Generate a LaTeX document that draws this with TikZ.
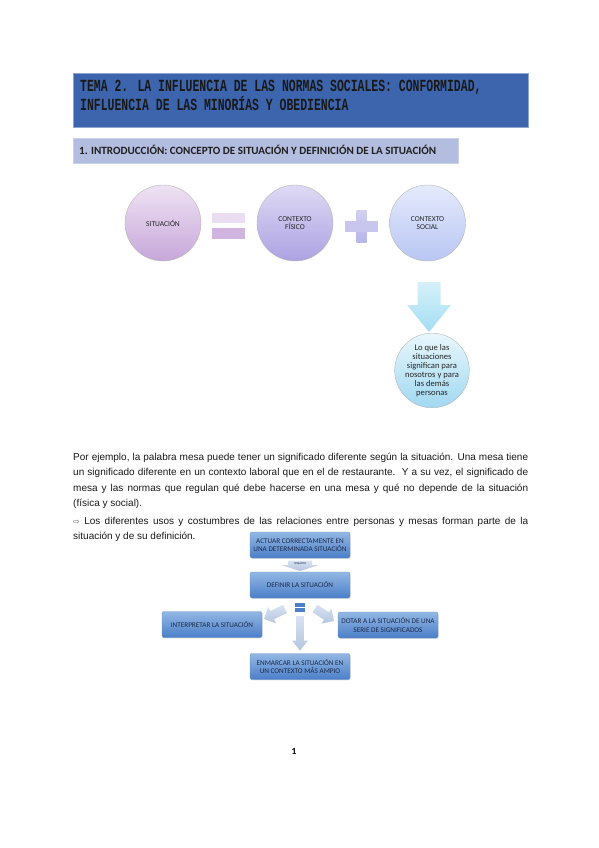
\documentclass[tikz,border=0pt]{standalone}
\usepackage{fontspec}
\setmainfont{Liberation Sans}
\newfontfamily\calib{Carlito}
\newfontfamily\monof{Liberation Mono}
\newfontfamily\djv{DejaVu Sans}
\usetikzlibrary{calc,shadows}
\definecolor{titleblue}{HTML}{3D65AD}
\definecolor{titleframe}{HTML}{8FA5D2}
\definecolor{secfill}{HTML}{B3BDE0}
\definecolor{secframe}{HTML}{C9D0EA}
\definecolor{boxtop}{HTML}{93B7E4}
\definecolor{boxbot}{HTML}{4B7FC8}
\definecolor{boxframe}{HTML}{6E95CE}
\definecolor{boxtext}{HTML}{1C2A48}
\definecolor{arrtop}{HTML}{D9E2F0}
\definecolor{arrbot}{HTML}{B5C6E0}
\newcommand{\blockarr}[6]{% start, end, shaft half width, head half width, head length, style
  \path[#6] ($(#1)!#3!90:(#2)$) -- ($($(#2)!#5!(#1)$)!#3!90:(#2)$)
    -- ($($(#2)!#5!(#1)$)!#4!90:(#2)$) -- (#2)
    -- ($($(#2)!#5!(#1)$)!#4!-90:(#2)$) -- ($($(#2)!#5!(#1)$)!#3!-90:(#2)$)
    -- ($(#1)!#3!-90:(#2)$) -- cycle;}
\tikzset{
  circ/.style={circle, minimum size=76pt, inner sep=0pt, draw=black!28, line width=0.4pt,
    font=\calib\fontsize{7.5}{8.6}\selectfont, align=center, text=black!85},
  bar/.style={rectangle, inner sep=0pt, draw=none},
  fbox/.style={rectangle, rounded corners=2pt, top color=boxtop, bottom color=boxbot,
    draw=boxframe, line width=0.3pt, minimum width=100pt, minimum height=26pt, inner sep=1pt,
    font=\calib\fontsize{7.2}{8.4}\selectfont, align=center, text=boxtext,
    drop shadow={opacity=0.25, shadow xshift=0.6pt, shadow yshift=-0.8pt}},
  bodyline/.style={anchor=base west, inner sep=0pt, font=\fontsize{10}{12}\selectfont, text=black!90},
}
\begin{document}
\begin{tikzpicture}[x=1pt,y=-1pt]
\useasboundingbox[fill=white] (0,0) rectangle (599,848);

% title
\node[anchor=north west, minimum width=455pt, minimum height=54pt, inner sep=0pt,
  fill=titleblue, draw=titleframe, line width=0.8pt] (title) at (73,73) {};
\node[anchor=base west, inner sep=0pt, font=\monof\bfseries\fontsize{11.7}{14}\selectfont, text=black!90] (t1) at (80,91.5)
  {\scalebox{0.98}[1.45]{TEMA 2. LA INFLUENCIA DE LAS NORMAS SOCIALES: CONFORMIDAD,}};
\node[anchor=base west, inner sep=0pt, font=\monof\bfseries\fontsize{11.7}{14}\selectfont, text=black!90] (t2) at (80,111)
  {\scalebox{0.98}[1.45]{INFLUENCIA DE LAS MINORÍAS Y OBEDIENCIA}};

% section
\node[anchor=north west, minimum width=385pt, minimum height=25pt, inner sep=0pt,
  fill=secfill, draw=secframe, line width=0.6pt] (sec) at (73,138) {};
\node[anchor=base west, inner sep=0pt, font=\calib\bfseries\fontsize{11.1}{13}\selectfont, text=black!88] (sect) at (79,154)
  {1. INTRODUCCIÓN: CONCEPTO DE SITUACIÓN Y DEFINICIÓN DE LA SITUACIÓN};

% circles
\node[circ, top color={rgb,255:red,238;green,226;blue,243}, bottom color={rgb,255:red,199;green,167;blue,218}] (sit) at (163,223) {SITUACIÓN};
\node[bar, minimum width=33pt, minimum height=10pt, fill={rgb,255:red,234;green,221;blue,242}] (eqa) at (228.5,218) {};
\node[bar, minimum width=33pt, minimum height=11pt, fill={rgb,255:red,208;green,181;blue,225}] (eqb) at (228.5,233.5) {};
\node[circ, top color={rgb,255:red,222;green,218;blue,244}, bottom color={rgb,255:red,172;green,162;blue,226}] (fis) at (295,223) {CONTEXTO\\FÍSICO};
\node[bar, minimum width=10pt, minimum height=32pt, top color={rgb,255:red,210;green,208;blue,242}, bottom color={rgb,255:red,182;green,182;blue,234}] (plv) at (361.5,226) {};
\node[bar, minimum width=33pt, minimum height=11pt, fill={rgb,255:red,200;green,198;blue,238}] (plh) at (361.5,226) {};
\node[circ, top color={rgb,255:red,229;green,234;blue,252}, bottom color={rgb,255:red,184;green,198;blue,243}] (soc) at (427.5,223) {CONTEXTO\\SOCIAL};

\coordinate (da1) at (429,282);
\coordinate (da2) at (429,332);
\blockarr{da1}{da2}{11.5pt}{22pt}{27pt}{top color={rgb,255:red,214;green,241;blue,250}, bottom color={rgb,255:red,163;green,221;blue,243}}
\node[circ, minimum size=74pt, top color={rgb,255:red,232;green,247;blue,253}, bottom color={rgb,255:red,160;green,216;blue,241}, font=\calib\fontsize{8.6}{8.9}\selectfont] (res) at (432,370.5)
  {Lo que las\\situaciones\\significan para\\nosotros y para\\las demás\\personas};

% body text
\node[bodyline] (l1) at (73,460) {\makebox[455pt][s]{Por ejemplo, la palabra mesa puede tener un significado diferente según la situación. Una mesa tiene}};
\node[bodyline] (l2) at (73,475.5) {\makebox[455pt][s]{un significado diferente en un contexto laboral que en el de restaurante.\ \ Y a su vez, el significado de}};
\node[bodyline] (l3) at (73,491) {\makebox[455pt][s]{mesa y las normas que regulan qué debe hacerse en una mesa y qué no depende de la situación}};
\node[bodyline] (l4) at (73,506.5) {(física y social).};
\node[bodyline] (l5) at (73,524) {\makebox[455pt][s]{{\djv\fontsize{8}{10}\selectfont\color{black!60}⇨} Los diferentes usos y costumbres de las relaciones entre personas y mesas forman parte de la}};
\node[bodyline] (l6) at (73,539.5) {situación y de su definición.};

% bottom diagram
\node[fbox] (act) at (300,545) {ACTUAR CORRECTAMENTE EN\\UNA DETERMINADA SITUACIÓN};
\node[fbox] (def) at (300,585) {DEFINIR LA SITUACIÓN};
\node[fbox] (int) at (212,624.5) {INTERPRETAR LA SITUACIÓN};
\node[fbox] (dot) at (388,625) {DOTAR A LA SITUACIÓN DE UNA\\SERIE DE SIGNIFICADOS};
\node[fbox] (enm) at (300,666.5) {ENMARCAR LA SITUACIÓN EN\\UN CONTEXTO MÁS AMPIO};

\coordinate (ra1) at (300,560.5);
\coordinate (ra2) at (300,571);
\blockarr{ra1}{ra2}{12pt}{19pt}{6pt}{top color=arrtop, bottom color=arrbot}
\node[inner sep=0pt, font=\calib\fontsize{3.6}{4}\selectfont, text=boxtext] (req) at (300,563.3) {requiere};

\node[bar, minimum width=10pt, minimum height=3.2pt, fill=boxbot] (eqs1) at (300,605) {};
\node[bar, minimum width=10pt, minimum height=3.2pt, fill=boxbot] (eqs2) at (300,610) {};

\coordinate (la1) at (285,609);
\coordinate (la2) at (264,619);
\blockarr{la1}{la2}{4.5pt}{9pt}{9pt}{top color=arrtop, bottom color=arrbot}
\coordinate (rra1) at (315,608.5);
\coordinate (rra2) at (334,621);
\blockarr{rra1}{rra2}{4.5pt}{9pt}{9pt}{top color=arrtop, bottom color=arrbot}
\coordinate (dd1) at (300,616);
\coordinate (dd2) at (300,650.5);
\blockarr{dd1}{dd2}{3.8pt}{8pt}{10pt}{top color=arrtop, bottom color=arrbot}

% page number
\node[anchor=base, inner sep=0pt, font=\calib\bfseries\fontsize{9.5}{11}\selectfont] (pg) at (294,754.5) {1};
\end{tikzpicture}
\end{document}
